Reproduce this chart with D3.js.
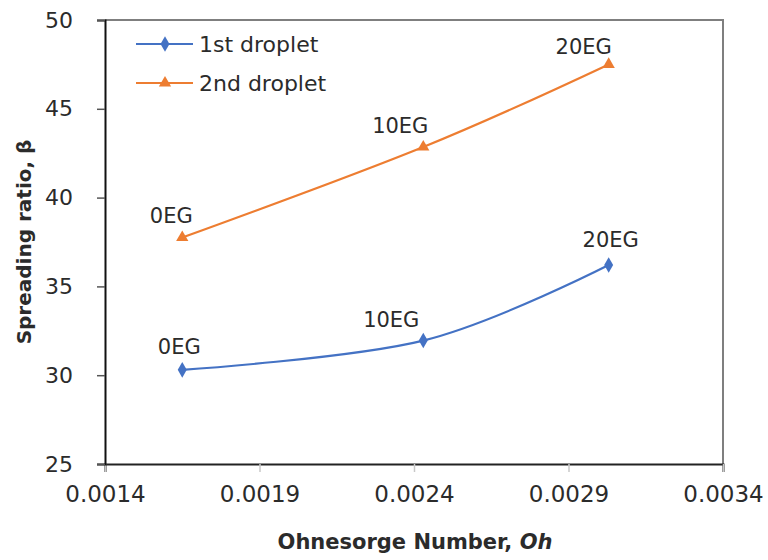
<!DOCTYPE html>
<html><head><meta charset="utf-8">
<script src="https://cdn.jsdelivr.net/npm/d3@7"></script>
<style>body{margin:0;background:#fff}svg{display:block}</style>
</head><body>
<svg id="c" width="768" height="560"></svg>
<script>
// ---- data ----
const ohValues = [0.00165, 0.00243, 0.00303];
const pointLabels = ["0EG", "10EG", "20EG"];
const series1Name = "1st droplet";
const series1 = [30.3, 31.95, 36.2];
const series2Name = "2nd droplet";
const series2 = [37.75, 42.85, 47.5];
const xTicks = [0.0014, 0.0019, 0.0024, 0.0029, 0.0034];
const yTicks = [25, 30, 35, 40, 45, 50];

// ---- layout / style ----
const L = 105, R = 723, T = 20, B = 464;
const blue = "#4472C4", orange = "#ED7D31";
const font = "DejaVu Sans";
const txt = "#2b2b2b";
const lab1Off = [[-3, -16], [-32, -14], [2, -18]];
const lab2Off = [[-11, -15], [-23, -14], [-25, -10]];

const svg = d3.select("#c");
const x = d3.scaleLinear().domain([0.0014, 0.0034]).range([L, R]);
const y = d3.scaleLinear().domain([25, 50]).range([B, T]);

// plot border (top/right gray)
svg.append("path").attr("d", `M${L},${T}H${R}V${B}`).attr("fill", "none")
  .attr("stroke", "#7f7f7f").attr("stroke-width", 2);

// x axis
const xa = svg.append("g").attr("transform", `translate(0,${B})`)
  .call(d3.axisBottom(x).tickValues(xTicks).tickFormat(d3.format(".4f")).tickSize(8).tickPadding(14));
xa.select(".domain").attr("stroke", "#222").attr("stroke-width", 2);
xa.selectAll(".tick line").attr("stroke", "#c8c8c8").attr("stroke-width", 1.5);
xa.selectAll("text").attr("font-family", font).attr("font-size", 23).attr("fill", txt);

// y axis
const ya = svg.append("g").attr("transform", `translate(${L},0)`)
  .call(d3.axisLeft(y).tickValues(yTicks).tickSize(8).tickPadding(24));
ya.select(".domain").attr("stroke", "#111").attr("stroke-width", 2);
ya.selectAll(".tick line").attr("stroke", "#555").attr("stroke-width", 1.5);
ya.selectAll("text").attr("font-family", font).attr("font-size", 22).attr("fill", txt);

// axis titles
svg.append("text").attr("transform", `translate(31,${(T + B) / 2}) rotate(-90)`)
  .attr("text-anchor", "middle").attr("font-family", font).attr("font-weight", "bold")
  .attr("font-size", 20).attr("fill", txt).text("Spreading ratio, β");
const xt = svg.append("text").attr("x", 415).attr("y", 549).attr("text-anchor", "middle")
  .attr("font-family", font).attr("font-weight", "bold").attr("font-size", 21).attr("fill", txt);
xt.append("tspan").text("Ohnesorge Number, ");
xt.append("tspan").attr("font-style", "italic").text("Oh");

const line = d3.line().x(d => x(d[0])).y(d => y(d[1])).curve(d3.curveCardinal.tension(0));
const diamond = d3.symbol().type(d3.symbolDiamond).size(70);
const tri = d3.symbol().type(d3.symbolTriangle).size(65);

function drawSeries(vals, color, sym, offs) {
  const pts = ohValues.map((o, i) => [o, vals[i]]);
  svg.append("path").attr("d", line(pts)).attr("fill", "none").attr("stroke", color).attr("stroke-width", 2.2);
  svg.selectAll(null).data(pts).enter().append("path")
    .attr("d", sym).attr("transform", d => `translate(${x(d[0])},${y(d[1])})`).attr("fill", color);
  svg.selectAll(null).data(pts).enter().append("text")
    .attr("x", (d, i) => x(d[0]) + offs[i][0]).attr("y", (d, i) => y(d[1]) + offs[i][1])
    .attr("text-anchor", "middle").attr("font-family", font).attr("font-size", 21).attr("fill", txt)
    .text((d, i) => pointLabels[i]);
}
drawSeries(series2, orange, tri, lab2Off);
drawSeries(series1, blue, diamond, lab1Off);

// legend
const leg = [[series1Name, blue, diamond, 44], [series2Name, orange, tri, 83]];
leg.forEach(([name, c, sym, ly]) => {
  svg.append("line").attr("x1", 136).attr("x2", 193).attr("y1", ly).attr("y2", ly).attr("stroke", c).attr("stroke-width", 2.2);
  svg.append("path").attr("d", sym).attr("transform", `translate(165,${ly})`).attr("fill", c);
  svg.append("text").attr("x", 199).attr("y", ly + 8).attr("font-family", font).attr("font-size", 22)
    .attr("fill", txt).text(name);
});
</script>
</body></html>
